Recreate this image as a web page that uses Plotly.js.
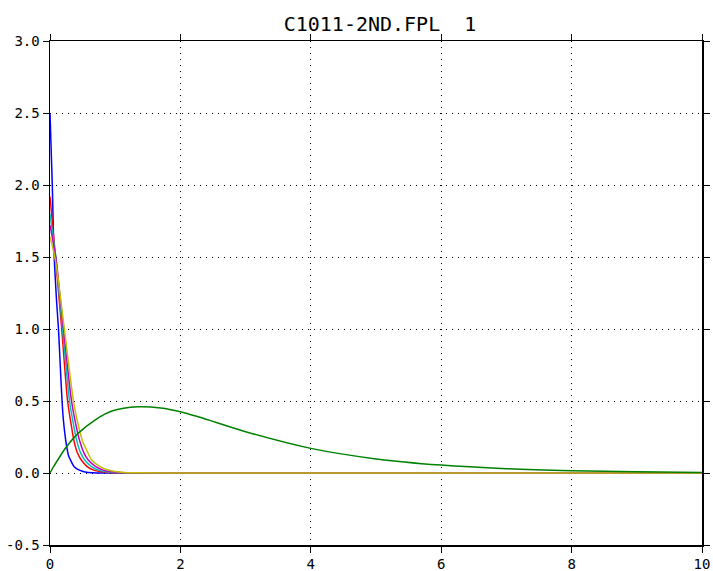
<!DOCTYPE html>
<html>
<head>
<meta charset="utf-8">
<script src="https://cdn.plot.ly/plotly-3.0.1.min.js"></script>
<style>html,body{margin:0;padding:0;background:#fff;}#chart{width:713px;height:571px;}</style>
</head>
<body>
<div id="chart"></div>
<script>
// Data
const blueX    = [0, 0.035, 0.06, 0.1, 0.13, 0.16, 0.185, 0.205, 0.25, 0.285, 0.315, 0.37, 0.46, 0.54, 0.65, 0.85, 10];
const blueY    = [2.5, 2.0, 1.55, 1.2, 1.0, 0.72, 0.5, 0.37, 0.2, 0.12, 0.09, 0.044, 0.018, 0.007, 0.002, 0, 0];

const redX     = [0, 0.04, 0.08, 0.13, 0.18, 0.27, 0.32, 0.37, 0.42, 0.48, 0.57, 0.67, 0.77, 0.9, 1.1, 1.5, 10];
const redY     = [1.92, 1.72, 1.52, 1.26, 1.0, 0.5, 0.35, 0.22, 0.14, 0.09, 0.044, 0.02, 0.01, 0.004, 0.001, 0, 0];

const cyanX    = [0, 0.04, 0.09, 0.14, 0.193, 0.30, 0.355, 0.413, 0.47, 0.533, 0.637, 0.743, 0.847, 1.0, 1.2, 1.6, 10];
const cyanY    = [1.80, 1.66, 1.50, 1.25, 1.0, 0.5, 0.35, 0.22, 0.14, 0.09, 0.044, 0.02, 0.01, 0.004, 0.001, 0, 0];

const magentaX = [0, 0.05, 0.1, 0.15, 0.207, 0.33, 0.39, 0.457, 0.52, 0.587, 0.703, 0.817, 0.923, 1.08, 1.3, 1.7, 10];
const magentaY = [1.72, 1.60, 1.46, 1.24, 1.0, 0.5, 0.35, 0.22, 0.14, 0.09, 0.044, 0.02, 0.01, 0.004, 0.001, 0, 0];

const yellowX  = [0, 0.05, 0.1, 0.16, 0.22, 0.36, 0.42, 0.50, 0.55, 0.64, 0.77, 0.89, 1.0, 1.15, 1.35, 1.8, 10];
const yellowY  = [1.64, 1.55, 1.43, 1.22, 1.0, 0.5, 0.36, 0.22, 0.17, 0.09, 0.044, 0.021, 0.01, 0.004, 0.001, 0, 0];

const greenX   = [0, 0.05, 0.15, 0.25, 0.43, 0.69, 0.95, 1.35, 1.7, 2, 2.3, 3, 4, 5, 6, 7, 8, 9, 10];
const greenY   = [0, 0.04, 0.113, 0.18, 0.275, 0.368, 0.43, 0.46, 0.452, 0.426, 0.387, 0.287, 0.171, 0.098, 0.055, 0.03, 0.016, 0.008, 0.004];

const xTicks = [0, 2, 4, 6, 8, 10];
const yTicks = [-0.5, 0, 0.5, 1.0, 1.5, 2.0, 2.5, 3.0];
const chartTitle = 'C1011-2ND.FPL  1';

const series = [
  {x: blueX, y: blueY, color: '#0000ff'},
  {x: redX, y: redY, color: '#ff0000'},
  {x: cyanX, y: cyanY, color: '#00c0c0'},
  {x: magentaX, y: magentaY, color: '#c000c0'},
  {x: yellowX, y: yellowY, color: '#c0c000'},
  {x: greenX, y: greenY, color: '#008000'}
];

const traces = series.map(s => ({
  x: s.x, y: s.y, type: 'scatter', mode: 'lines',
  line: {color: s.color, width: 1.5, shape: 'spline', smoothing: 0.8},
  hoverinfo: 'skip', showlegend: false
}));

const font = {family: 'DejaVu Sans Mono, monospace', size: 14, color: '#000'};
const axisCommon = {
  showline: true, linecolor: '#000', linewidth: 1.5, mirror: 'ticks',
  ticks: 'outside', ticklen: 6, tickwidth: 1, tickcolor: '#000',
  showgrid: true, gridcolor: '#000', gridwidth: 1, griddash: '1px,5px',
  zeroline: false, tickfont: font
};

const layout = {
  width: 713, height: 571,
  margin: {l: 50, r: 11, t: 41, b: 26},
  paper_bgcolor: '#fff', plot_bgcolor: '#fff',
  font: font,
  title: {text: chartTitle, font: {family: 'DejaVu Sans Mono, monospace', size: 20, color: '#000'},
          x: 380/713, xref: 'container', xanchor: 'center', y: 1 - 24/571, yref: 'container', yanchor: 'middle'},
  xaxis: Object.assign({}, axisCommon, {range: [0, 10], tickmode: 'array', tickvals: xTicks,
          ticktext: xTicks.map(v => String(v))}),
  yaxis: Object.assign({}, axisCommon, {range: [-0.5, 3.0], tickmode: 'array', tickvals: yTicks,
          ticktext: yTicks.map(v => v.toFixed(1))})
};

Plotly.newPlot('chart', traces, layout, {staticPlot: true, displayModeBar: false});
</script>
</body>
</html>
